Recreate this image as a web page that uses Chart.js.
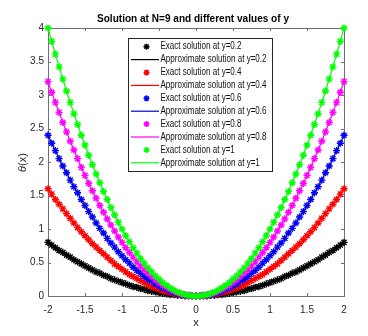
<!DOCTYPE html>
<html>
<head>
<meta charset="utf-8">
<script src="https://cdn.jsdelivr.net/npm/chart.js"></script>
<style>
  body { margin: 0; background: #fff; }
  #c { display: block; }
</style>
</head>
<body>
<canvas id="c" width="368" height="336"></canvas>
<script>
// DATA
const xValues = [-2,-1.95,-1.9,-1.85,-1.8,-1.75,-1.7,-1.65,-1.6,-1.55,-1.5,-1.45,-1.4,-1.35,-1.3,-1.25,-1.2,-1.15,-1.1,-1.05,
  -1,-0.95,-0.9,-0.85,-0.8,-0.75,-0.7,-0.65,-0.6,-0.55,-0.5,-0.45,-0.4,-0.35,-0.3,-0.25,-0.2,-0.15,-0.1,-0.05,
  0,0.05,0.1,0.15,0.2,0.25,0.3,0.35,0.4,0.45,0.5,0.55,0.6,0.65,0.7,0.75,0.8,0.85,0.9,0.95,
  1,1.05,1.1,1.15,1.2,1.25,1.3,1.35,1.4,1.45,1.5,1.55,1.6,1.65,1.7,1.75,1.8,1.85,1.9,1.95,2];

const theta02 = [0.8,0.76,0.72,0.68,0.65,0.61,0.58,0.54,0.51,0.48,0.45,0.42,0.39,0.36,0.34,0.31,0.29,0.26,0.24,0.22,
  0.2,0.18,0.16,0.14,0.13,0.11,0.1,0.08,0.07,0.06,0.05,0.04,0.03,0.02,0.02,0.01,0.01,0,0,0,
  0,0,0,0,0.01,0.01,0.02,0.02,0.03,0.04,0.05,0.06,0.07,0.08,0.1,0.11,0.13,0.14,0.16,0.18,
  0.2,0.22,0.24,0.26,0.29,0.31,0.34,0.36,0.39,0.42,0.45,0.48,0.51,0.54,0.58,0.61,0.65,0.68,0.72,0.76,0.8];

const theta04 = [1.6,1.52,1.44,1.37,1.3,1.23,1.16,1.09,1.02,0.96,0.9,0.84,0.78,0.73,0.68,0.63,0.58,0.53,0.48,0.44,
  0.4,0.36,0.32,0.29,0.26,0.23,0.2,0.17,0.14,0.12,0.1,0.08,0.06,0.05,0.04,0.03,0.02,0.01,0,0,
  0,0,0,0.01,0.02,0.03,0.04,0.05,0.06,0.08,0.1,0.12,0.14,0.17,0.2,0.23,0.26,0.29,0.32,0.36,
  0.4,0.44,0.48,0.53,0.58,0.63,0.68,0.73,0.78,0.84,0.9,0.96,1.02,1.09,1.16,1.23,1.3,1.37,1.44,1.52,1.6];

const theta06 = [2.4,2.28,2.17,2.05,1.94,1.84,1.73,1.63,1.54,1.44,1.35,1.26,1.18,1.09,1.01,0.94,0.86,0.79,0.73,0.66,
  0.6,0.54,0.49,0.43,0.38,0.34,0.29,0.25,0.22,0.18,0.15,0.12,0.1,0.07,0.05,0.04,0.02,0.01,0.01,0,
  0,0,0.01,0.01,0.02,0.04,0.05,0.07,0.1,0.12,0.15,0.18,0.22,0.25,0.29,0.34,0.38,0.43,0.49,0.54,
  0.6,0.66,0.73,0.79,0.86,0.94,1.01,1.09,1.18,1.26,1.35,1.44,1.54,1.63,1.73,1.84,1.94,2.05,2.17,2.28,2.4];

const theta08 = [3.2,3.04,2.89,2.74,2.59,2.45,2.31,2.18,2.05,1.92,1.8,1.68,1.57,1.46,1.35,1.25,1.15,1.06,0.97,0.88,
  0.8,0.72,0.65,0.58,0.51,0.45,0.39,0.34,0.29,0.24,0.2,0.16,0.13,0.1,0.07,0.05,0.03,0.02,0.01,0,
  0,0,0.01,0.02,0.03,0.05,0.07,0.1,0.13,0.16,0.2,0.24,0.29,0.34,0.39,0.45,0.51,0.58,0.65,0.72,
  0.8,0.88,0.97,1.06,1.15,1.25,1.35,1.46,1.57,1.68,1.8,1.92,2.05,2.18,2.31,2.45,2.59,2.74,2.89,3.04,3.2];

const theta10 = [4,3.8,3.61,3.42,3.24,3.06,2.89,2.72,2.56,2.4,2.25,2.1,1.96,1.82,1.69,1.56,1.44,1.32,1.21,1.1,
  1,0.9,0.81,0.72,0.64,0.56,0.49,0.42,0.36,0.3,0.25,0.2,0.16,0.12,0.09,0.06,0.04,0.02,0.01,0,
  0,0,0.01,0.02,0.04,0.06,0.09,0.12,0.16,0.2,0.25,0.3,0.36,0.42,0.49,0.56,0.64,0.72,0.81,0.9,
  1,1.1,1.21,1.32,1.44,1.56,1.69,1.82,1.96,2.1,2.25,2.4,2.56,2.72,2.89,3.06,3.24,3.42,3.61,3.8,4];

const yLabels = ['0.2', '0.4', '0.6', '0.8', '1'];
const seriesValues = [theta02, theta04, theta06, theta08, theta10];
const seriesColors = ['#000000', '#ff0000', '#0000ff', '#ff00ff', '#00ff00'];
const lineColors = ['#000000', '#ff0000', '#0000c8', '#ff00ff', '#00ff00'];

const titleText = 'Solution at N=9 and different values of y';
const axisColor = '#262626';
const boxColor = '#707070';

// build datasets: exact (stars) then approximate (line) for each y
var datasets = [];
seriesValues.forEach(function (vals, k) {
  var pts = xValues.map(function (x, i) { return { x: x, y: vals[i] }; });
  datasets.push({
    label: 'Exact solution at y=' + yLabels[k],
    data: pts,
    showLine: false,
    pointStyle: 'star',
    pointRadius: 3.6,
    borderWidth: 1.4,
    borderColor: seriesColors[k],
    backgroundColor: seriesColors[k],
    clip: false,
    order: 20 - 2 * k
  });
  datasets.push({
    label: 'Approximate solution at y=' + yLabels[k],
    data: pts,
    showLine: true,
    pointRadius: 0,
    borderWidth: 1.2,
    borderColor: lineColors[k],
    backgroundColor: lineColors[k],
    clip: false,
    order: 19 - 2 * k
  });
});

function drawStar(ctx, x, y, r) {
  ctx.beginPath();
  ctx.moveTo(x - r, y); ctx.lineTo(x + r, y);
  ctx.moveTo(x, y - r); ctx.lineTo(x, y + r);
  var d = r * Math.SQRT1_2;
  ctx.moveTo(x - d, y - d); ctx.lineTo(x + d, y + d);
  ctx.moveTo(x - d, y + d); ctx.lineTo(x + d, y - d);
  ctx.stroke();
}

// condensed text helper
function fillCondensed(ctx, text, x, y, width, align) {
  var w = ctx.measureText(text).width;
  ctx.save();
  ctx.translate(x, y);
  ctx.scale(width / w, 1);
  ctx.textAlign = align || 'left';
  ctx.fillText(text, 0, 0);
  ctx.restore();
}

const decorations = {
  id: 'decorations',
  beforeDatasetsDraw: function (chart) {
    var ctx = chart.ctx;
    var a = chart.chartArea;
    var xs = chart.scales.x, ys = chart.scales.y;
    ctx.save();
    ctx.strokeStyle = boxColor;
    ctx.lineWidth = 1;
    ctx.strokeRect(Math.round(a.left) + 0.5, Math.round(a.top) + 0.5,
      Math.round(a.right - a.left), Math.round(a.bottom - a.top));
    ctx.beginPath();
    xs.ticks.forEach(function (t) {
      var px = Math.round(xs.getPixelForValue(t.value)) + 0.5;
      ctx.moveTo(px, a.bottom); ctx.lineTo(px, a.bottom - 3);
      ctx.moveTo(px, a.top); ctx.lineTo(px, a.top + 3);
    });
    ys.ticks.forEach(function (t) {
      var py = Math.round(ys.getPixelForValue(t.value)) + 0.5;
      ctx.moveTo(a.left, py); ctx.lineTo(a.left + 3, py);
      ctx.moveTo(a.right, py); ctx.lineTo(a.right - 3, py);
    });
    ctx.stroke();
    ctx.restore();
  },
  afterDraw: function (chart) {
    var ctx = chart.ctx;
    var a = chart.chartArea;
    ctx.save();

    // title
    ctx.fillStyle = '#000';
    ctx.font = 'bold 11px "Liberation Sans", Arial, sans-serif';
    ctx.textBaseline = 'alphabetic';
    fillCondensed(ctx, titleText, 193, 22, 192, 'center');

    // axis titles
    ctx.fillStyle = axisColor;
    ctx.font = '11px "Liberation Sans", Arial, sans-serif';
    ctx.textAlign = 'center';
    ctx.textBaseline = 'middle';
    ctx.fillText('x', (a.left + a.right) / 2, 323);
    ctx.save();
    ctx.translate(23, (a.top + a.bottom) / 2);
    ctx.rotate(-Math.PI / 2);
    ctx.font = 'italic 11px "Liberation Sans", Arial, sans-serif';
    ctx.textAlign = 'right';
    ctx.fillText('\u03b8', -4, 0);
    ctx.font = '11px "Liberation Sans", Arial, sans-serif';
    ctx.textAlign = 'left';
    ctx.fillText('(x)', -4, 0);
    ctx.restore();

    // legend
    var lx = 128, ly = 38, lw = 144, lh = 133;
    ctx.fillStyle = '#fff';
    ctx.fillRect(lx, ly, lw, lh);
    ctx.strokeStyle = axisColor;
    ctx.lineWidth = 1;
    ctx.strokeRect(lx + 0.5, ly + 0.5, lw, lh);
    ctx.font = '10px "Liberation Sans", Arial, sans-serif';
    ctx.textBaseline = 'middle';
    var base = ctx.measureText('Exact solution at y=0.2').width;
    var f = 81 / base;
    chart.data.datasets.forEach(function (ds, i) {
      var ry = ly + 8.7 + i * 12.9;
      ctx.strokeStyle = ds.borderColor;
      ctx.lineWidth = ds.showLine ? 1.2 : 1.5;
      if (ds.showLine) {
        ctx.beginPath();
        ctx.moveTo(131, ry); ctx.lineTo(159, ry);
        ctx.stroke();
      } else {
        drawStar(ctx, 146.5, ry, 3);
      }
      ctx.fillStyle = '#111';
      var w = ctx.measureText(ds.label).width;
      fillCondensed(ctx, ds.label, 160.5, ry, w * f, 'left');
    });

    ctx.restore();
  }
};

var tickFont = { family: '"Liberation Sans", Arial, sans-serif', size: 10 };
function plainLabel(value) { return String(Math.round(value * 100) / 100); }

var options = {
  responsive: false,
  animation: false,
  events: [],
  layout: { padding: { left: 0, top: 28, right: 24, bottom: 0 } },
  plugins: {
    legend: { display: false },
    title: { display: false },
    tooltip: { enabled: false }
  },
  scales: {
    x: {
      type: 'linear',
      min: -2, max: 2,
      grid: { display: false, drawTicks: false },
      border: { display: false },
      ticks: { stepSize: 0.5, color: axisColor, font: tickFont, padding: 8, maxRotation: 0, callback: plainLabel },
      afterFit: function (s) { s.height = 40; }
    },
    y: {
      type: 'linear',
      min: 0, max: 4,
      grid: { display: false, drawTicks: false },
      border: { display: false },
      ticks: { stepSize: 0.5, color: axisColor, font: tickFont, padding: 4, callback: plainLabel },
      afterFit: function (s) { s.width = 48; }
    }
  }
};

var ctx = document.getElementById('c');
var myChart = new Chart(ctx, {
  type: 'scatter',
  data: { datasets: datasets },
  options: options,
  plugins: [decorations]
});
</script>
</body>
</html>
